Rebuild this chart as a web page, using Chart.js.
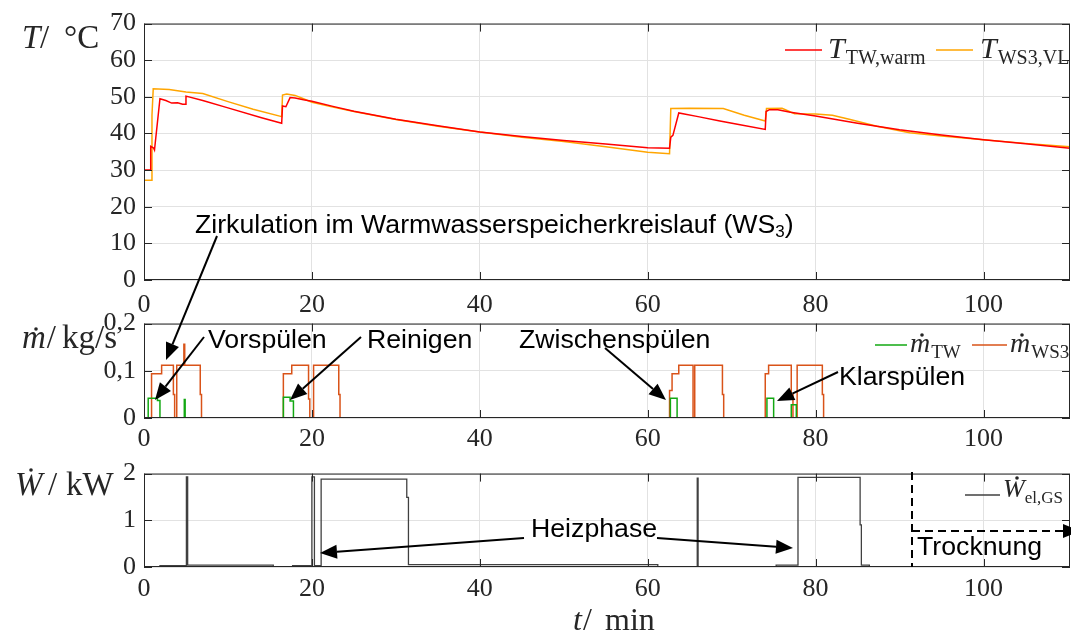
<!DOCTYPE html>
<html>
<head>
<meta charset="utf-8">
<script src="https://cdn.jsdelivr.net/npm/chart.js@4/dist/chart.umd.min.js"></script>
<style>
  body { margin: 0; background: #fff; width: 1071px; height: 636px; overflow: hidden; position: relative; }
  canvas { position: absolute; left: 0; }
  #overlay { pointer-events: none; }
</style>
</head>
<body>
<canvas id="chartTemp" width="1071" height="320" style="top:0px"></canvas>
<canvas id="chartFlow" width="1071" height="160" style="top:300px"></canvas>
<canvas id="chartPower" width="1071" height="186" style="top:450px"></canvas>
<canvas id="overlay" width="1071" height="636" style="top:0px"></canvas>
<script>
// time axis (min)
const X_MAX = 110.3;
const X_TICK_STEP = 20;

// temperatures (°C)
const tTwWarm = [0, 0.75, 0.8, 1.15, 1.25, 1.9, 2.6, 3.3, 4.0, 4.6, 4.9, 5.0, 7, 10, 14, 16.4, 16.5, 16.9, 17.4, 18,
  19, 20, 22.5, 25, 30, 35, 40, 45, 50, 55, 60, 62.6, 62.75, 63.0, 63.7, 66, 68.6, 71, 74.0, 74.1,
  74.5, 75.5, 77, 80, 85, 90, 95, 100, 105, 110.3];
const vTwWarm = [30, 30, 36.5, 36, 35.5, 49.5, 49, 48.3, 48.4, 48.0, 48.0, 50.2, 49, 47, 44.3, 42.8, 47.5, 47.3, 49.8, 49.7,
  49.2, 48.8, 47.4, 46.1, 43.9, 42.1, 40.4, 39.2, 38.1, 37.1, 36.1, 36.0, 39, 39.5, 45.6, 44.6, 43.4, 42.4, 41.1, 46.0,
  46.5, 46.5, 45.8, 44.8, 42.8, 41.0, 39.6, 38.3, 37.2, 36.0];

const tWs3Vl = [0, 0.85, 0.95, 1.1, 3, 5, 7, 10, 13, 16.4, 16.5, 17, 18, 19, 20, 22.5, 25, 30, 35, 40,
  45, 50, 55, 60, 62.6, 62.75, 65, 69, 71.5, 74.0, 74.15, 76, 77.5, 80, 82, 84, 87.3, 91.2, 95, 100,
  105, 110.3];
const vWs3Vl = [27.2, 27.2, 45, 52.2, 52.0, 51.3, 50.9, 48.7, 46.6, 44.6, 50.5, 50.8, 50.4, 49.5, 48.5, 47.2, 46.0, 43.8, 42.0, 40.4,
  39.0, 37.8, 36.4, 34.9, 34.5, 46.8, 46.9, 46.8, 45.0, 43.4, 46.8, 46.9, 45.4, 45.3, 45.0, 43.9, 42.0, 40.2, 39.3, 38.3,
  37.3, 36.4];

// mass flows (kg/s), value holds from each time until the next
const tFlowTw = [0, 0.5, 1.6, 1.9, 4.8, 4.9, 16.6, 17.4, 17.8, 62.7, 63.5, 74.2, 75.0, 77.1, 77.7, 110.3];
const vFlowTw = [0, 0.042, 0.037, 0, 0.039, 0, 0.044, 0.036, 0, 0.042, 0, 0.042, 0, 0.028, 0, 0];

const tFlowWs3 = [0, 0.9, 2.1, 3.5, 3.65, 3.9, 4.75, 4.85, 6.7, 6.85, 16.6, 17.6, 19.6, 19.75, 20.2, 23.2, 23.35,
  62.6, 62.9, 63.7, 65.4, 65.6, 68.9, 69.05, 74.0, 74.4, 77.1, 77.3, 77.8, 80.8, 80.95, 110.3];
const vFlowWs3 = [0, 0.094, 0.112, 0.05, 0, 0.112, 0.156, 0.112, 0.05, 0, 0.094, 0.112, 0.04, 0, 0.112, 0.05, 0,
  0.058, 0.094, 0.112, 0, 0.112, 0.05, 0, 0.094, 0.112, 0.05, 0, 0.112, 0.05, 0, 0];

// electric power (kW), value holds from each time until the next
const tPower = [0, 1.9, 5.05, 5.2, 15.4, 17.7, 20.0, 20.3, 21.1, 31.3, 31.5, 61.2, 65.9, 66.0, 75.3, 77.9, 85.3, 85.45, 86.4, 110.3];
const vPower = [0, 0.03, 1.93, 0.04, 0, 0.03, 1.93, 0.03, 1.88, 1.49, 0.05, 0, 1.9, 0, 0.04, 1.92, 0.9, 0.04, 0, 0];

const SERIF = "'Liberation Serif', 'DejaVu Serif', serif";
const SANS = "'Liberation Sans', Arial, sans-serif";
const AXIS_COLOR = "#262626";
const GRID_COLOR = "#e2e2e2";
const TICK_LEN = 8;

function pts(ts, vs) {
  return ts.map((t, i) => ({ x: t, y: vs[i] }));
}

// dark box with inward ticks, MATLAB style
const boxPlugin = {
  id: "box",
  afterDraw(chart) {
    const { ctx, chartArea: a, scales: { x, y } } = chart;
    ctx.save();
    ctx.strokeStyle = AXIS_COLOR;
    ctx.lineWidth = 1;
    ctx.strokeRect(a.left + 0.5, a.top + 0.5, a.right - a.left - 1, a.bottom - a.top - 1);
    ctx.beginPath();
    x.ticks.forEach(t => {
      const px = Math.round(x.getPixelForValue(t.value)) + 0.5;
      ctx.moveTo(px, a.top); ctx.lineTo(px, a.top + TICK_LEN);
      ctx.moveTo(px, a.bottom); ctx.lineTo(px, a.bottom - TICK_LEN);
    });
    y.ticks.forEach(t => {
      const py = Math.round(y.getPixelForValue(t.value)) + 0.5;
      ctx.moveTo(a.left, py); ctx.lineTo(a.left + TICK_LEN, py);
      ctx.moveTo(a.right, py); ctx.lineTo(a.right - TICK_LEN, py);
    });
    ctx.stroke();
    ctx.restore();
  }
};

function panel(id, cfg) {
  return new Chart(document.getElementById(id), {
    type: "line",
    data: { datasets: cfg.datasets },
    options: {
      responsive: false,
      animation: false,
      layout: { padding: { top: cfg.padTop, right: 1, left: 0, bottom: 0 } },
      plugins: { legend: { display: false }, tooltip: { enabled: false } },
      elements: { point: { radius: 0 }, line: { borderWidth: 1.5, tension: 0 } },
      scales: {
        x: {
          type: "linear", min: 0, max: X_MAX,
          ticks: { stepSize: X_TICK_STEP, includeBounds: false, padding: cfg.xPad, color: AXIS_COLOR, font: { family: SERIF, size: 26 } },
          grid: { color: GRID_COLOR, drawTicks: false },
          border: { display: false },
          afterFit: s => { s.height = cfg.xHeight; }
        },
        y: {
          min: cfg.yMin, max: cfg.yMax,
          ticks: { stepSize: cfg.yStep, includeBounds: false, padding: 8, color: AXIS_COLOR, font: { family: SERIF, size: 26 },
            callback: cfg.yFmt || (v => String(v)) },
          grid: { color: GRID_COLOR, drawTicks: false },
          border: { display: false },
          afterFit: s => { s.width = 144; }
        }
      }
    },
    plugins: [boxPlugin]
  });
}

const tempChart = panel("chartTemp", {
  padTop: 22, xHeight: 40, xPad: 10, yMin: 0, yMax: 70, yStep: 10,
  datasets: [
    { data: pts(tTwWarm, vTwWarm), borderColor: "#ff0000" },
    { data: pts(tWs3Vl, vWs3Vl), borderColor: "#ffa500" }
  ]
});

const flowChart = panel("chartFlow", {
  padTop: 22, xHeight: 42, xPad: 6, yMin: 0, yMax: 0.2, yStep: 0.1,
  yFmt: v => (Math.round(v * 10) / 10).toString().replace(".", ","),
  datasets: [
    { data: pts(tFlowTw, vFlowTw), borderColor: "#12a812", stepped: true },
    { data: pts(tFlowWs3, vFlowWs3), borderColor: "#d95319", stepped: true }
  ]
});

const powerChart = panel("chartPower", {
  padTop: 22, xHeight: 69, xPad: 7, yMin: 0, yMax: 2, yStep: 1,
  datasets: [
    { data: pts(tPower, vPower), borderColor: "#404040", borderWidth: 1.3, stepped: true }
  ]
});

// labels, legends and annotations
const ov = document.getElementById("overlay").getContext("2d");

function txt(s, x, y, font, color) {
  ov.font = font;
  ov.fillStyle = color || "#000";
  ov.fillText(s, x, y);
  return x + ov.measureText(s).width;
}
function dot(x, y, color) {
  ov.fillStyle = color || AXIS_COLOR;
  ov.beginPath();
  ov.arc(x, y, 1.8, 0, Math.PI * 2);
  ov.fill();
}
function seg(x1, x2, y, color) {
  ov.strokeStyle = color;
  ov.lineWidth = 1.5;
  ov.beginPath();
  ov.moveTo(x1, y); ov.lineTo(x2, y);
  ov.stroke();
}
function arrow(x1, y1, x2, y2, dashed) {
  const a = Math.atan2(y2 - y1, x2 - x1), L = 17, W = 7;
  const bx = x2 - L * Math.cos(a), by = y2 - L * Math.sin(a);
  ov.strokeStyle = "#000";
  ov.fillStyle = "#000";
  ov.lineWidth = 2;
  ov.setLineDash(dashed ? [8, 5] : []);
  ov.beginPath();
  ov.moveTo(x1, y1); ov.lineTo(bx, by);
  ov.stroke();
  ov.setLineDash([]);
  ov.beginPath();
  ov.moveTo(x2, y2);
  ov.lineTo(bx + W * Math.sin(a), by - W * Math.cos(a));
  ov.lineTo(bx - W * Math.sin(a), by + W * Math.cos(a));
  ov.closePath();
  ov.fill();
}

const mathIt = sz => `italic ${sz}px ${SERIF}`;
const mathRm = sz => `${sz}px ${SERIF}`;

// axis titles
txt("T", 22, 48, mathIt(33), AXIS_COLOR);
txt("/", 40, 48, mathRm(33), AXIS_COLOR);
txt("°C", 64, 48, mathRm(33), AXIS_COLOR);

let e = txt("m", 22, 348, mathIt(33), AXIS_COLOR);
dot(36, 329);
txt("/", e + 1, 348, mathRm(33), AXIS_COLOR);
txt("kg/s", 62, 348, mathRm(33), AXIS_COLOR);

e = txt("W", 15, 495, mathIt(33), AXIS_COLOR);
dot(31, 470);
txt("/", 48, 495, mathRm(33), AXIS_COLOR);
txt("kW", 66, 495, mathRm(33), AXIS_COLOR);

e = txt("t", 573, 630, mathIt(32), AXIS_COLOR);
txt("/", e + 1, 630, mathRm(32), AXIS_COLOR);
txt("min", 605, 630, mathRm(32), AXIS_COLOR);

// legends
seg(785, 822, 50, "#ff0000");
e = txt("T", 828, 58, mathIt(30), AXIS_COLOR);
txt("TW,warm", e + 1, 64, mathRm(20), AXIS_COLOR);
seg(936, 973, 50, "#ffa500");
e = txt("T", 980, 58, mathIt(30), AXIS_COLOR);
txt("WS3,VL", e + 1, 64, mathRm(20), AXIS_COLOR);

seg(875, 907, 345, "#12a812");
e = txt("m", 910, 352, mathIt(28), AXIS_COLOR);
dot(922, 335);
txt("TW", e + 1, 358, mathRm(19), AXIS_COLOR);
seg(972, 1007, 345, "#d95319");
e = txt("m", 1010, 352, mathIt(28), AXIS_COLOR);
dot(1022, 335);
txt("WS3", e + 1, 358, mathRm(19), AXIS_COLOR);

seg(965, 1000, 495, "#404040");
e = txt("W", 1003, 497, mathIt(26), AXIS_COLOR);
dot(1017, 478);
txt("el,GS", e, 503, mathRm(17), AXIS_COLOR);

// annotations
const ANN = `26.7px ${SANS}`;
e = txt("Zirkulation im Warmwasserspeicherkreislauf (WS", 195, 233, ANN);
e = txt("3", e, 237, `17px ${SANS}`);
txt(")", e, 233, ANN);
arrow(217, 236, 166, 360);

txt("Vorspülen", 208, 348, ANN);
arrow(204, 337, 155, 400);
txt("Reinigen", 367, 348, ANN);
arrow(361, 337, 290, 400);
txt("Zwischenspülen", 519, 348, ANN);
arrow(605, 348, 666, 400);
txt("Klarspülen", 839, 385, ANN);
arrow(838, 372, 777, 401);

txt("Heizphase", 531, 537, ANN);
arrow(524, 538, 320, 553);
arrow(657, 538, 793, 548);

ov.strokeStyle = "#000";
ov.lineWidth = 2;
ov.setLineDash([8, 5]);
ov.beginPath();
ov.moveTo(912, 472); ov.lineTo(912, 567);
ov.stroke();
ov.setLineDash([]);
arrow(912, 531, 1080, 531, true);
txt("Trocknung", 917, 555, ANN);
</script>
</body>
</html>
